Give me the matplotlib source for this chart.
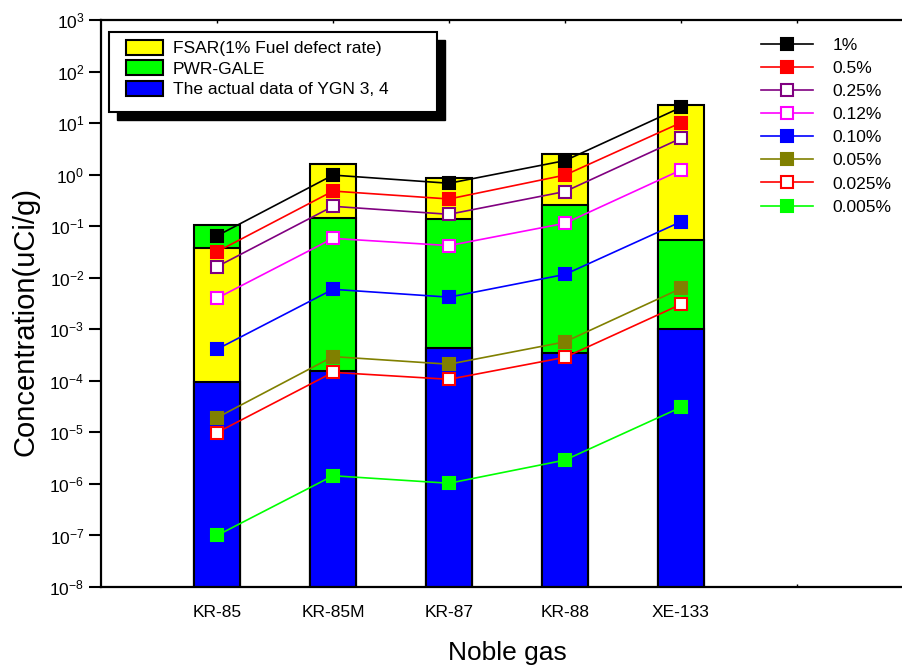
import matplotlib
matplotlib.use("Agg")
import matplotlib.pyplot as plt
from matplotlib.patches import Rectangle, Patch
import numpy as np

plt.rcParams['font.family'] = ['Liberation Sans', 'DejaVu Sans']
plt.rcParams['mathtext.default'] = 'regular'

categories = ['KR-85', 'KR-85M', 'KR-87', 'KR-88', 'XE-133']

# Bars
fsar = [0.037, 1.58, 0.85, 2.48, 22.4]
pwr_gale = [0.105, 0.142, 0.138, 0.258, 0.054]
actual = [9.4e-5, 1.58e-4, 4.3e-4, 3.5e-4, 1.01e-3]
bar_labels = ['FSAR(1% Fuel defect rate)', 'PWR-GALE', 'The actual data of YGN 3, 4']
bar_colors = ['#FFFF00', '#00FF00', '#0000FF']

# Fuel defect rate series
rate_labels = ['1%', '0.5%', '0.25%', '0.12%', '0.10%', '0.05%', '0.025%', '0.005%']
rate_values = {
    '1%':     [0.065, 0.98, 0.68, 1.87, 20.2],
    '0.5%':   [0.032, 0.48, 0.337, 0.98, 10.2],
    '0.25%':  [0.0164, 0.243, 0.17, 0.47, 5.07],
    '0.12%':  [0.0040, 0.058, 0.042, 0.114, 1.23],
    '0.10%':  [4.1e-4, 5.96e-3, 4.2e-3, 0.0116, 0.122],
    '0.05%':  [1.93e-5, 2.95e-4, 2.1e-4, 5.7e-4, 6.2e-3],
    '0.025%': [9.9e-6, 1.46e-4, 1.07e-4, 2.86e-4, 3.05e-3],
    '0.005%': [1.0e-7, 1.44e-6, 1.03e-6, 2.9e-6, 3.07e-5],
}
rate_colors = ['#000000', '#FF0000', '#800080', '#FF00FF', '#0000FF', '#808000', '#FF0000', '#00FF00']
rate_filled = [True, True, False, False, True, True, False, True]

y_exponents = list(range(-8, 4))

fig = plt.figure(figsize=(9.03, 6.68), dpi=100)
ax = fig.add_axes([101/903, 81/668, 812/903, 567/668])
ax.set_yscale('log')
ax.set_ylim(10.0**y_exponents[0], 10.0**y_exponents[-1])
ax.set_xlim(0, len(categories) + 2)

x = np.arange(1, len(categories) + 1)
width = 0.4
bar_series = [fsar, pwr_gale, actual]
for i in range(len(categories)):
    vals = [s[i] for s in bar_series]
    order = np.argsort(vals)[::-1]
    for rank, k in enumerate(order):
        ax.bar(x[i], vals[k], width=width, color=bar_colors[k], edgecolor='black',
               linewidth=1.5, zorder=2 + rank * 0.1)

handles2 = []
for lab, col, filled in zip(rate_labels, rate_colors, rate_filled):
    ln, = ax.plot(x, rate_values[lab], color=col, lw=1.2, marker='s', markersize=8.5,
                  markerfacecolor=col if filled else 'white', markeredgecolor=col,
                  markeredgewidth=1.5, zorder=5, label=lab)
    handles2.append(ln)

# axes styling
for side in ['left', 'bottom', 'top']:
    ax.spines[side].set_linewidth(1.6)
ax.spines['right'].set_visible(False)
ax.set_yticks([10.0**e for e in y_exponents])
ax.set_yticklabels([r'$10^{%d}$' % e for e in y_exponents], fontsize=12.5)
ax.yaxis.set_minor_locator(matplotlib.ticker.NullLocator())
ax.tick_params(axis='y', direction='out', length=9, width=1.5, pad=3)
ax.set_xticks(list(x) + [len(categories) + 1])
ax.set_xticklabels(categories + [''], fontsize=12.5)
ax.tick_params(axis='x', direction='in', length=2, width=1, pad=13, top=True)

ax.set_ylabel('Concentration(uCi/g)', fontsize=21)
ax.yaxis.set_label_coords(-0.076, 0.469)
ax.set_xlabel('Noble gas', fontsize=19, labelpad=15)

# Legend 1 with shadow and frame drawn manually
ax.add_patch(Rectangle((0.0197, 0.8236), 0.4039, 0.1411, transform=ax.transAxes,
                       facecolor='black', edgecolor='black', zorder=8, clip_on=False))
ax.add_patch(Rectangle((0.00985, 0.8377), 0.4039, 0.1411, transform=ax.transAxes,
                       facecolor='white', edgecolor='black', lw=1.5, zorder=8.5, clip_on=False))
proxies = [Patch(facecolor=c, edgecolor='black', lw=1.5) for c in bar_colors]
leg1 = ax.legend(proxies, bar_labels, loc='upper left', bbox_to_anchor=(0.0308, 0.965),
                 frameon=False, fontsize=12.5, handlelength=2.15, handleheight=0.97,
                 handletextpad=0.55, labelspacing=0.22, borderpad=0, borderaxespad=0)
leg1.set_zorder(9)
ax.add_artist(leg1)

leg2 = ax.legend(handles=handles2, loc='upper left', bbox_to_anchor=(0.8128, 0.969),
                 frameon=False, fontsize=12.5, handlelength=3.0, handletextpad=1.1,
                 labelspacing=0.46, borderpad=0, borderaxespad=0, markerscale=1.1)
leg2.set_zorder(9)

fig.savefig('out.png', dpi=100)
